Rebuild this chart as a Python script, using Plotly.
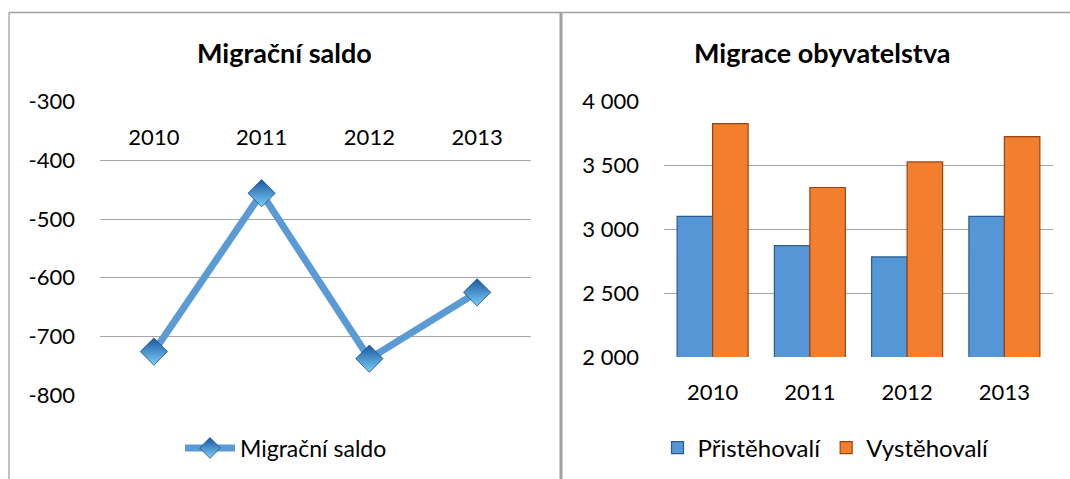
import plotly.graph_objects as go

years = ["2010", "2011", "2012", "2013"]
saldo = [-726, -456, -738, -625]
pristehovali = [3102, 2872, 2784, 3102]
vystehovali = [3828, 3328, 3528, 3727]
saldo_ticks = [-800, -700, -600, -500, -400, -300]
saldo_ticktext = ["-800", "-700", "-600", "-500", "-400", "-300"]

W, H = 1070, 479
FONT = "Lato"
GRID = "#A6A6A6"


def px(x):
    return x / W


def py(y):
    return 1 - y / H


fig = go.Figure()

fig.add_trace(go.Scatter(
    x=years, y=saldo, name="Migrační saldo", mode="lines+markers",
    line=dict(color="#5B9BD5", width=7),
    marker=dict(symbol="diamond", size=21, color="#1A56A0",
                gradient=dict(type="vertical", color="#7CCFF5"),
                line=dict(color="#1B4F8C", width=0.8)),
    xaxis="x", yaxis="y", legend="legend",
))

fig.add_trace(go.Bar(
    x=years, y=pristehovali, name="Přistěhovalí",
    marker=dict(color="#5596D6", line=dict(color="#2A5C90", width=1.2)),
    xaxis="x2", yaxis="y2", legend="legend2",
))
fig.add_trace(go.Bar(
    x=years, y=vystehovali, name="Vystěhovalí",
    marker=dict(color="#F27E2E", line=dict(color="#9A4510", width=1.2)),
    xaxis="x2", yaxis="y2", legend="legend2",
))

tickfont = dict(family=FONT, size=22, color="#000000")

fig.update_layout(
    width=W, height=H,
    margin=dict(l=0, r=0, t=0, b=0, autoexpand=False),
    paper_bgcolor="white", plot_bgcolor="white",
    font=dict(family=FONT, color="#000000"),
    barmode="group", bargap=0.27, bargroupgap=0,
    separators=", ",
    xaxis=dict(domain=[px(100), px(531)], anchor="free", position=py(101.7),
               side="bottom", range=[-0.5, 3.5], showgrid=False,
               showline=False, zeroline=False,
               ticks="", tickfont=tickfont, ticklabelstandoff=20),
    yaxis=dict(domain=[py(395), py(101.7)], anchor="x", range=[-800, -300],
               tickmode="array", tickvals=saldo_ticks, ticktext=saldo_ticktext,
               showgrid=True, gridcolor=GRID, gridwidth=1.3,
               zeroline=False, showline=False, ticks="", tickfont=tickfont,
               ticklabelstandoff=24),
    xaxis2=dict(domain=[px(664), px(1053)], anchor="y2", range=[-0.5, 3.5],
                showgrid=False, showline=False, zeroline=False, ticks="",
                tickfont=tickfont, ticklabelstandoff=20),
    yaxis2=dict(domain=[py(357), py(101.7)], anchor="x2", range=[2000, 4000],
                dtick=500, showgrid=True, gridcolor=GRID, gridwidth=1.3,
                zeroline=False, showline=False, ticks="", tickfont=tickfont,
                tickformat=",d", ticklabelstandoff=24),
    legend=dict(orientation="h", x=px(286), xanchor="center", y=py(448),
                yanchor="middle", font=dict(family=FONT, size=23),
                itemwidth=50, bgcolor="rgba(0,0,0,0)"),
    legend2=dict(orientation="h", x=px(826), xanchor="center", y=py(448),
                 yanchor="middle", font=dict(family=FONT, size=24),
                 bgcolor="rgba(0,0,0,0)"),
    showlegend=True,
    annotations=[
        dict(text="<b>Migrační saldo</b>", x=px(284), y=py(52), xref="paper",
             yref="paper", showarrow=False, font=dict(family=FONT, size=27),
             xanchor="center", yanchor="middle"),
        dict(text="<b>Migrace obyvatelstva</b>", x=px(822), y=py(52),
             xref="paper", yref="paper", showarrow=False,
             font=dict(family=FONT, size=27), xanchor="center",
             yanchor="middle"),
    ],
    shapes=[
        dict(type="line", xref="paper", yref="paper", x0=px(9), x1=1,
             y0=py(12.5), y1=py(12.5), line=dict(color="#A0A0A0", width=1.3)),
        dict(type="line", xref="paper", yref="paper", x0=px(9), x1=px(9),
             y0=py(12.5), y1=0, line=dict(color="#A0A0A0", width=1.3)),
        dict(type="line", xref="paper", yref="paper", x0=px(561), x1=px(561),
             y0=py(12.5), y1=0, line=dict(color="#A0A0A0", width=3)),
    ],
)

fig.write_html(
    "out.html",
    config={"displayModeBar": False},
    post_script="document.body.style.margin='0';"
                "document.body.style.overflow='hidden';",
)
